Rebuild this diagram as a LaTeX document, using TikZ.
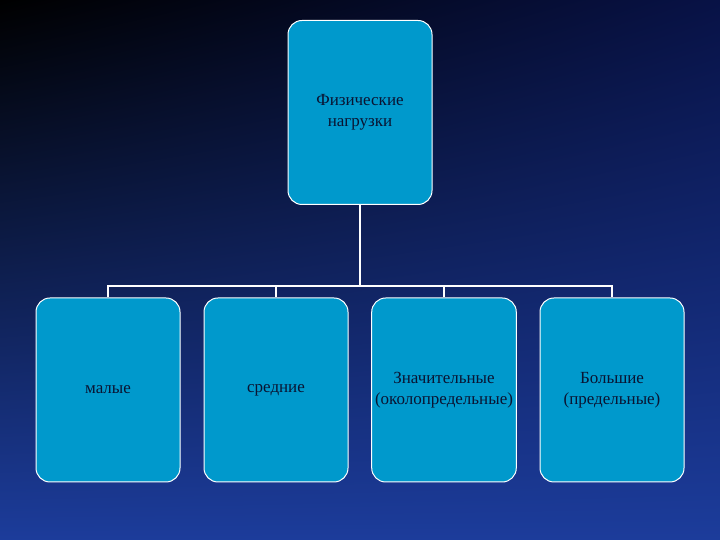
\documentclass[tikz,border=0pt]{standalone}
\usepackage{fontspec}
\setmainfont{Liberation Serif}
\usetikzlibrary{shadings}
\definecolor{bgA}{RGB}{8,18,70}
\definecolor{bgB}{RGB}{28,60,155}
\definecolor{boxC}{RGB}{0,153,204}
\definecolor{txtC}{RGB}{10,20,50}
\begin{document}
\begin{tikzpicture}[x=1pt,y=1pt,
  box/.style={draw=white,line width=1pt,rounded corners=14pt,fill=boxC,minimum width=144pt,minimum height=184pt,align=center,text=txtC,font=\fontsize{17}{21}\selectfont},
  conn/.style={draw=white,line width=1.6pt}]
\shade[upper left=black,upper right=bgA,lower left=bgB,lower right=bgB] (0,0) rectangle (720,540);
\useasboundingbox (0,0) rectangle (720,540);
\node[box] (top) at (360,427.5) {Физические\\нагрузки};
\node[box] (b1) at (108,150) {малые};
\node[box] (b2) at (276,150) {средние};
\node[box] (b3) at (444,150) {Значительные\\(околопредельные)};
\node[box] (b4) at (612,150) {Большие\\(предельные)};
\coordinate (hub) at (360,254);
\draw[conn] (top.south) -- (hub);
\draw[conn] (b1.north) -- (b1.north|-hub) -- (b4.north|-hub) -- (b4.north);
\draw[conn] (b2.north) -- (b2.north|-hub);
\draw[conn] (b3.north) -- (b3.north|-hub);
\end{tikzpicture}
\end{document}
